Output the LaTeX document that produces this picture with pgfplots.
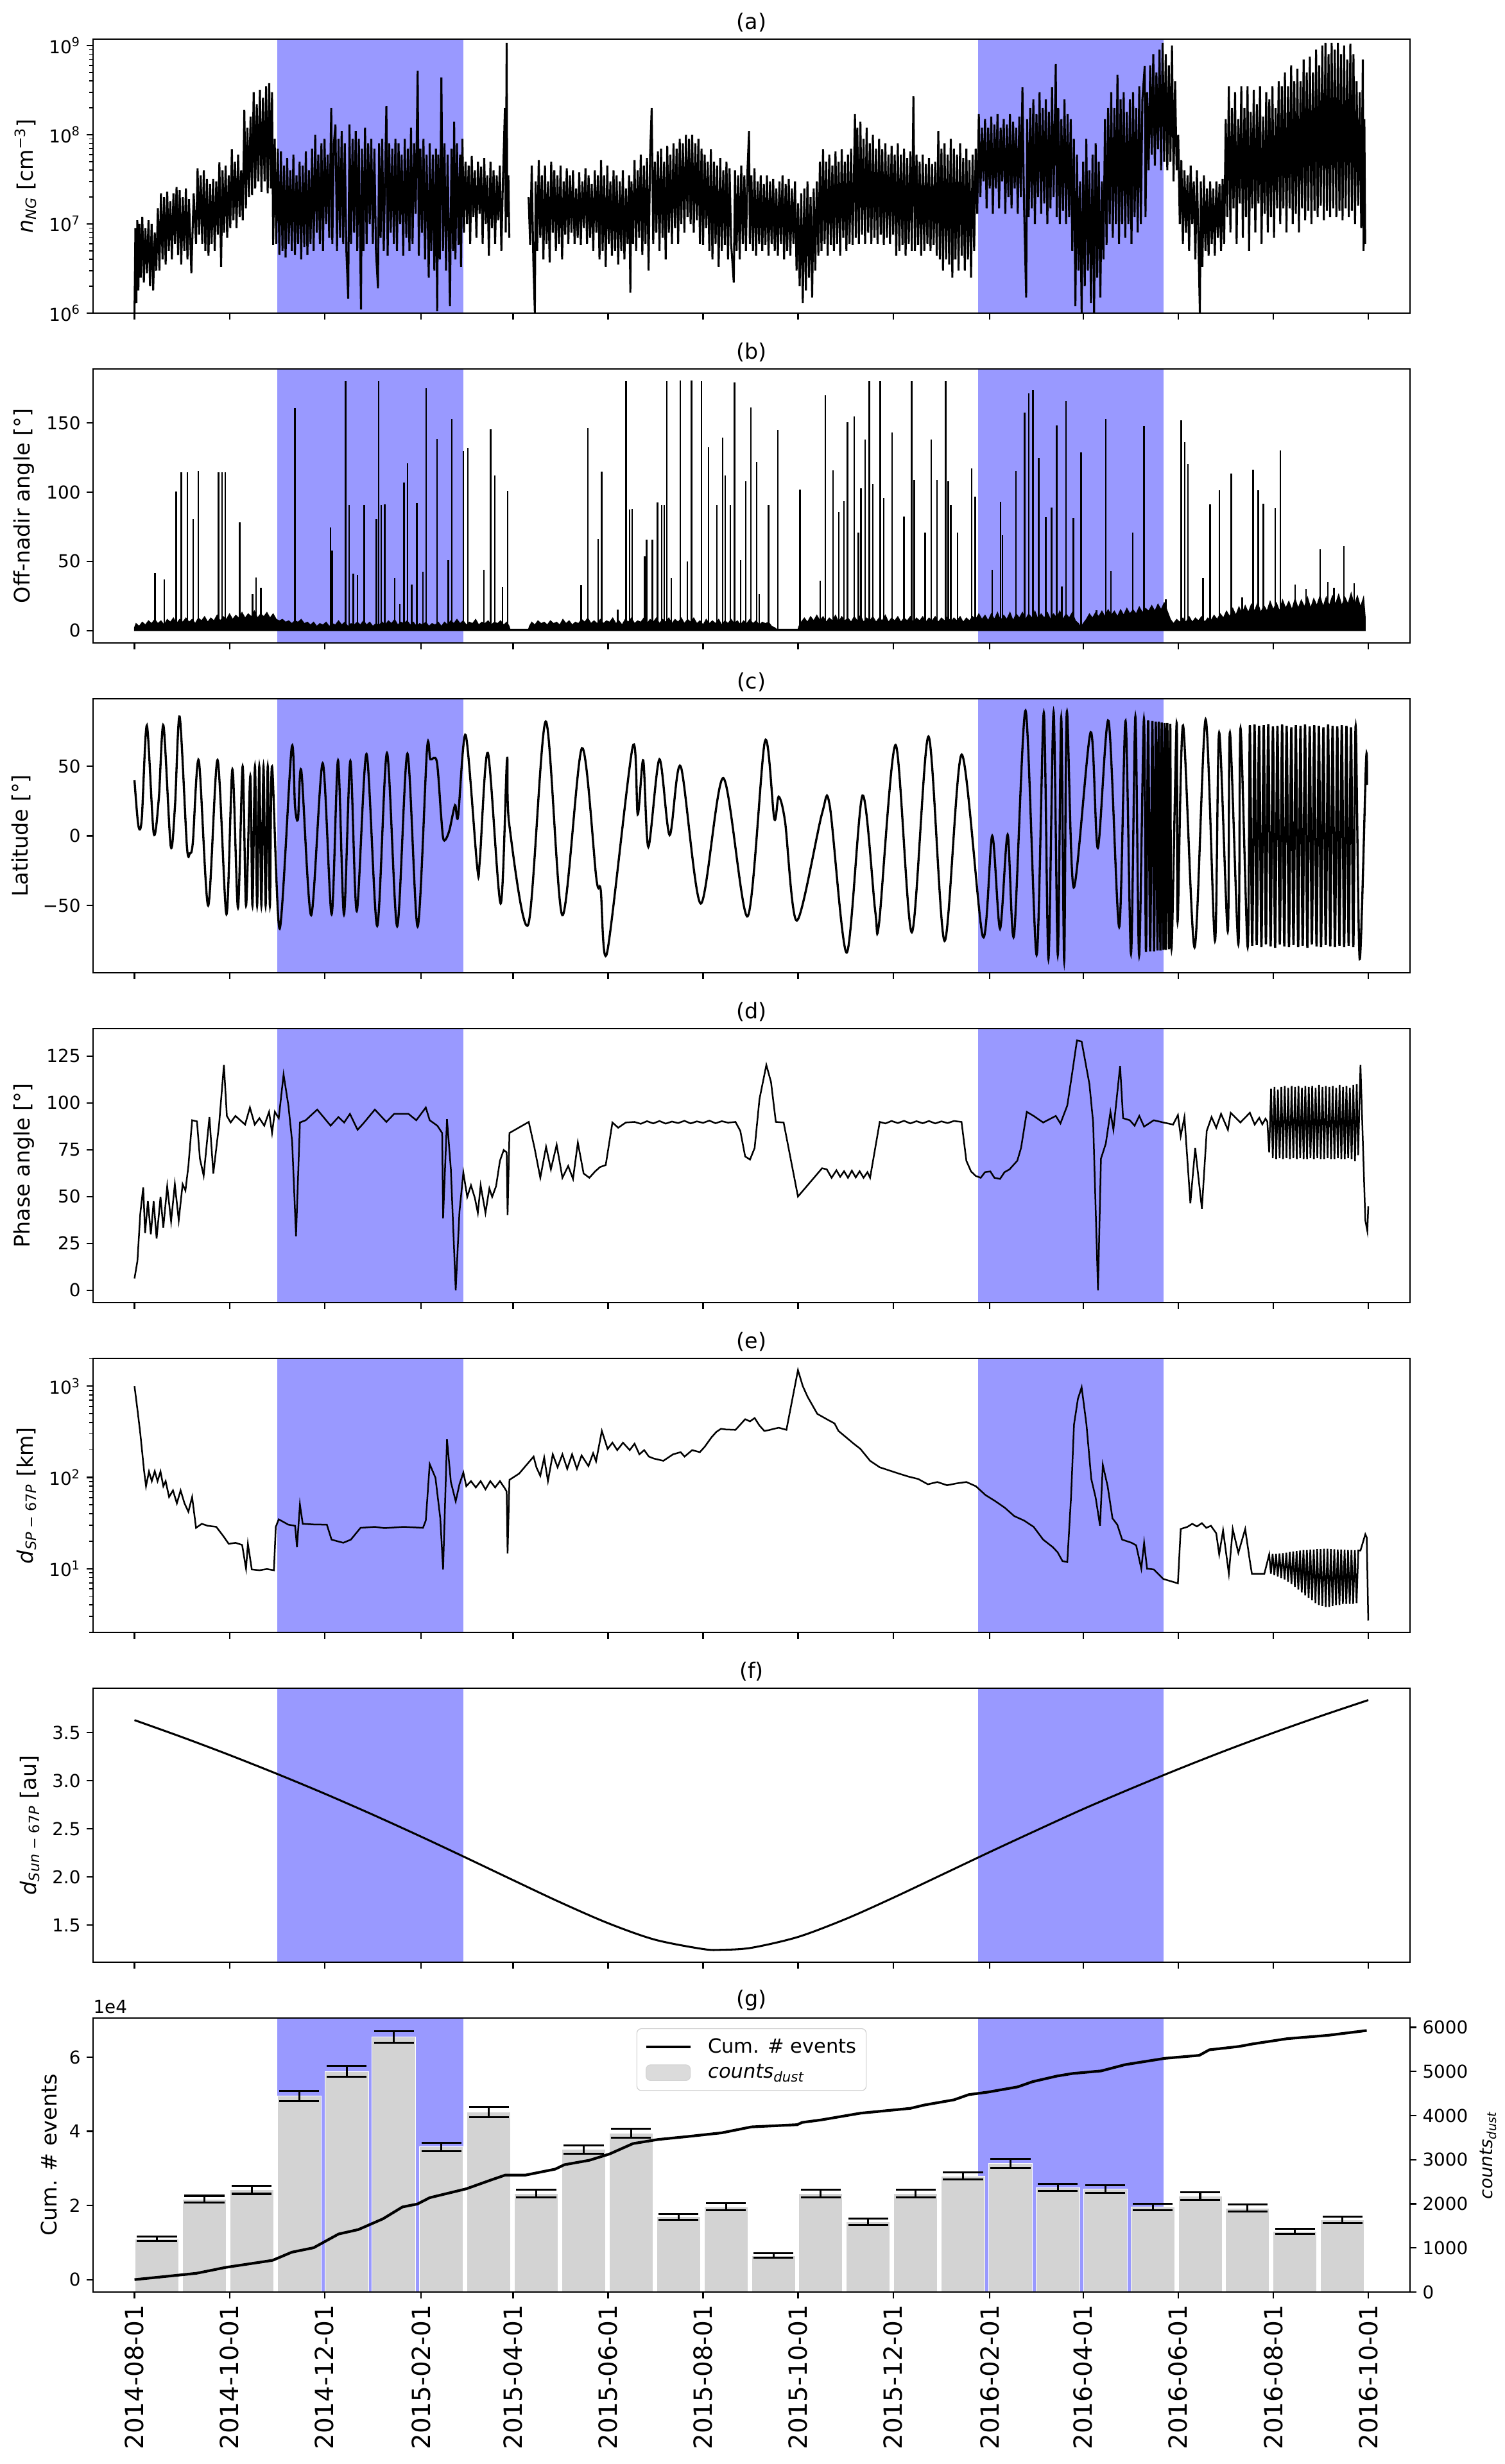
\documentclass[border=0pt]{standalone}
\usepackage{fontspec}
\setmainfont{DejaVu Sans}
\usepackage{pgfplots}
\pgfplotsset{compat=1.18}
\definecolor{spanblue}{RGB}{153,153,255}
\definecolor{bargray}{RGB}{211,211,211}
\pgfplotsset{
 panel/.style={
  width=738.72pt, height=153.72pt, scale only axis,
  xmin=-26.6, xmax=818.8,
  xtick={0,61,122,184,243,304,365,426,487,549,609,670,731,792},
  xticklabels={},
  scaled ticks=false,
  tick pos=left, tick align=outside,
  major tick length=3.5pt, minor tick length=2pt,
  major tick style={line width=0.8pt, black},
  minor tick style={line width=0.6pt, black},
  axis line style={line width=0.8pt, black},
  tick label style={font=\fontsize{10}{12}\selectfont, black},
  ylabel style={font=\fontsize{12}{14}\selectfont},
  title style={font=\fontsize{12}{14}\selectfont, yshift=-5.5pt},
  axis on top,
 },
}
\begin{document}
\begin{tikzpicture}
% ---------------- (a)
\begin{axis}[panel, at={(0pt,0pt)}, anchor=north west,
  title={(a)}, ymode=log, ymin=1e6, ymax=1.18e9,
  ytick={1e6,1e7,1e8,1e9},
  yticklabels={10\textsuperscript{6},10\textsuperscript{7},10\textsuperscript{8},10\textsuperscript{9}},
  minor ytick={2e6,3e6,4e6,5e6,6e6,7e6,8e6,9e6,2e7,3e7,4e7,5e7,6e7,7e7,8e7,9e7,2e8,3e8,4e8,5e8,6e8,7e8,8e8,9e8},
  ylabel={\textit{n}\textsubscript{\textit{NG}} [cm\textsuperscript{−3}]},
  unbounded coords=jump]
\addplot[draw=none, fill=spanblue, forget plot] coordinates {(91.8,1e5) (91.8,1e10) (211,1e10) (211,1e5)} -- cycle;
\addplot[draw=none, fill=spanblue, forget plot] coordinates {(541.6,1e5) (541.6,1e10) (660.5,1e10) (660.5,1e5)} -- cycle;
\addplot[black, line width=1.1pt] coordinates {
(0,1.0e6) (0.6,9e6) (1.2,1.3e6) (1.8,1.1e7) (2.5,1.8e6) (3.2,1.0e7) (4,2.5e6) (5,1.2e7) (6,2.2e6) (7,9e6)
(8,2.8e6) (9,1.1e7) (10,2.0e6) (11,1.0e7) (12,1.8e6) (13,8e6) (14,3e6) (15,1.5e7) (16,3e6) (17,2.2e7)
(18,4e6) (19,2.0e7) (20,3.5e6) (21,2.3e7) (22,5e6) (23,1.8e7) (24,4e6) (25,2.2e7) (26,6e6) (27,2.6e7)
(28,4.5e6) (29,2.4e7) (30,3.5e6) (31,2.0e7) (32,5e6) (33,2.5e7) (34,4e6) (35,1.9e7) (36.5,2.8e6) (38,2.2e7)
(39.5,6e6) (40.5,4.2e7) (41.5,7.6e6) (42.5,3.5e7) (43.5,6e6) (44.5,4e7) (45.5,5e6) (46.5,3.2e7) (47.5,4.4e6) (48.5,2.8e7)
(49.5,6e6) (50.5,3.2e7) (51.5,5e6) (52.5,3e7) (53.5,7.6e6) (54.5,4.9e7) (55.6,3.3e6) (56.5,4e7) (57.5,8e6) (58.5,4.5e7)
(59.5,7e6) (60.5,3.5e7) (61.5,9e6) (62.5,6.9e7) (63.5,1.1e7) (64.5,5e7) (65.5,9e6) (66.5,6e7) (67.5,1.2e7) (68.5,4e7)
(69.5,1.1e7) (70.5,1.9e8) (71.5,1.5e7) (72.5,1.2e8) (73.5,2e7) (74.5,1.6e8) (75.5,2.1e7) (76.5,3e8) (77.5,2.5e7) (78.5,2.2e8)
(79.5,3e7) (80.5,3.2e8) (81.5,2.3e7) (82.5,2.6e8) (83.5,3e7) (84.5,3.5e8) (85.5,2.2e7) (86.5,3.8e8) (87.5,2.5e7) (88.3,3e8)
(89,5.8e6) (90,9e7) (91,6e6) (92,7e7) (93,4.5e6) (94,6.5e7) (95,5e6) (96,4.5e7) (97,4.2e6) (98,5.5e7)
(99,6e6) (100,4e7) (101,5e6) (102,6e7) (103,4.5e6) (104,3.5e7) (105,6e6) (106,5e7) (107,4e6) (108,4.5e7)
(109,5.5e6) (110,6.5e7) (111,4.5e6) (112,4e7) (113,6e6) (114,7e7) (115,5e6) (116,1.0e8) (117,8e6) (118,6e7)
(119,6e6) (120,8e7) (121,5e6) (122,9e7) (123,1e7) (124,6e7) (125,7e6) (126.3,2e8) (127,6e6) (128,8e7)
(129,1.3e8) (130,5e6) (131,9e7) (132,7e6) (133,1.1e8) (134,6e6) (135,8e7) (136,5e6) (137.2,1.45e6) (138,1.3e8)
(139,6e6) (140,9e7) (141,8e6) (142,1.1e8) (143,5e6) (144,9e7) (145.4,1.1e6) (146,7e7) (147,5e6) (148,1.2e8)
(149,6e6) (150,8e7) (151,1e7) (152,9e7) (153,6e6) (154,7e7) (155,5e6) (156.3,1.9e6) (157,8e7) (158,7e6)
(159,9e7) (160,5e6) (161.7,2.1e8) (162.5,4.4e6) (163.5,8e7) (164.5,8e6) (165.5,7e7) (166.5,6e6) (167.5,9e7) (168.5,5e6)
(169.5,8e7) (170.5,1e7) (171.5,6e7) (172.5,4.4e6) (173.5,9e7) (174.5,7e6) (175.5,7e7) (176.5,5e6) (177.5,1.2e8) (178.5,6e6)
(179.5,8e7) (180.5,1.3e7) (181.8,5.2e8) (182.5,4.4e6) (183.5,7e7) (184.5,8e6) (185.5,9e7) (186.5,4e6) (187.5,6e7) (188.9,2.5e6)
(189.5,8e7) (190.5,5e6) (191.5,6e7) (192.5,3e6) (193.5,7e7) (194.3,1.05e6) (195,6e7) (196,4e6) (197,4.4e8) (198,5e6)
(199,8e7) (200,3e6) (201,6e7) (202.5,1.2e6) (203.5,7e7) (204.5,5e6) (205.2,1.4e8) (206,4e6) (207,8e7) (208,5.8e6)
(209,6e7) (209.6,3.3e6) (210.5,9e7) (211.5,8e6) (212.5,5e7) (213.5,1e7) (214.5,4.5e7) (215.5,6e6) (216.5,5.8e7) (217.5,1.2e7)
(218.5,4e7) (219.5,7e6) (220.5,5e7) (221.5,1.3e7) (222.5,4.4e7) (223.5,6e6) (224.5,5.5e7) (225.5,1e7) (226.5,3.5e7) (227.5,4.4e6)
(228.5,5e7) (229.5,9e6) (230.5,4e7) (231.5,6e6) (232.5,3.5e7) (233.5,1.1e7) (234.5,4.5e7) (235.5,5e6) (236.5,3e7) (237.8,2e8)
(238.3,8e6) (238.9,1.07e9) (239.3,1.2e7) (240,3.5e7) (240.6,7e6) (245,nan)
(253,2e7) (254,5.8e6) (255,4.5e7) (256,4e6) (257,1.0e6) (257.5,3e7) (258.5,5e6) (259.5,5.2e7) (260.5,7e6) (261.5,3.5e7)
(262.5,4e6) (263.5,4.5e7) (264.5,6e6) (265.5,3e7) (266.5,3.7e6) (267.5,5e7) (268.5,8e6) (269.5,4e7) (270.5,5e6) (271.5,3.5e7)
(272.5,6e6) (273.5,4.5e7) (274.5,4e6) (275.5,3e7) (276.5,7.6e6) (277.5,4.2e7) (278.5,6e6) (279.5,3.5e7) (280.5,8e6) (281.5,4e7)
(282.5,6e6) (283.5,2.5e7) (284.5,7e6) (285.5,3.8e7) (286.5,5.8e6) (287.5,3e7) (288.5,9e6) (289.5,4.2e7) (290.5,6e6) (291.5,3.5e7)
(292.5,7e6) (293.5,2.8e7) (294.5,5e6) (295.5,4e7) (296.5,8e6) (297.5,3.5e7) (298.5,4e6) (299.5,5.2e7) (300.5,5e6) (301.5,3.5e7)
(302.5,3.3e6) (303.5,4.5e7) (304.5,6e6) (305.5,3e7) (306.5,4.4e6) (307.5,4e7) (308.5,5e6) (309.5,3.5e7) (310.5,3.5e6) (311.5,3e7)
(312.5,5e6) (313.5,4e7) (314.5,4e6) (315.5,2.5e7) (316.5,6e6) (317.5,3.5e7) (318.3,1.7e6) (319,3e7) (320,6e6) (321,5.2e7)
(322,5e6) (323,4e7) (324,7e6) (325,6e7) (326,4.5e6) (327,4.5e7) (328,6e6) (329,5.5e7) (330,3e6) (331,6e7)
(332,2.0e8) (333,6e6) (334,5e7) (335,8e6) (336,6.5e7) (337,5e6) (338,7e7) (339,7e6) (340,5e7) (341,4e6)
(342,7.5e7) (343,8e6) (344,6e7) (345,6e6) (346,8e7) (347,9e6) (348,7e7) (349,6e6) (350,9e7) (351,1e7)
(352,8e7) (353,8e6) (354,1.0e8) (355,1.2e7) (356,9e7) (357,1e7) (358,1.0e8) (359,8e6) (360,8e7) (361,1.1e7)
(362,9e7) (363,6e6) (364,7e7) (365,5.8e6) (366,6e7) (367,9e6) (368,5e7) (369,5e6) (370,6.9e7) (371,4e6)
(372,5e7) (373,6e6) (374,4.5e7) (375,3.3e6) (376,5.5e7) (377,5e6) (378,4e7) (379,5.8e6) (380,5e7) (381,4e6)
(382,4.2e7) (383,6e6) (384.7,2.2e6) (385.5,4e7) (386.5,5e6) (387.5,3.5e7) (388.5,4e6) (389.5,4.5e7) (390.5,6e6) (391.5,3.5e7)
(392.5,5e6) (393.5,4e7) (394.5,1.1e8) (395,6e6) (396,3.5e7) (397,5e6) (398,4.2e7) (399,4.4e6) (400,3e7) (401,6e6)
(402,3.5e7) (403,5e6) (404,2.8e7) (405,5.8e6) (406,3.5e7) (407,4.4e6) (408,3e7) (409,6e6) (410,3.2e7) (411,5e6)
(412,2.5e7) (413,4.4e6) (414,3e7) (415,6e6) (416,3.5e7) (417,4e6) (418,2.8e7) (419,5e6) (420,3.2e7) (421,4.4e6)
(422,2.5e7) (423,6e6) (424,3e7) (425,3e6) (426,1.7e7) (427,2e6) (428,2.2e7) (429,1.3e6) (430,2.5e7) (431,1.8e6)
(432,3e7) (433,2.5e6) (434,2e7) (435,1.5e6) (436,2.5e7) (437,3e6) (438,3e7) (439,4.4e6) (440,5e7) (441,5e6)
(442,6.9e7) (443,6e6) (444,5e7) (445,4.4e6) (446,6e7) (447,5.8e6) (448,4.5e7) (449,5e6) (450,6.5e7) (451,6e6)
(452,5e7) (453,4.4e6) (454,6.9e7) (455,7e6) (456,5e7) (457,5e6) (458,6e7) (459,6e6) (460,7e7) (461,5.8e6)
(462.5,1.7e8) (463,7e6) (464,1.2e8) (465,6e6) (466,1.4e8) (467,7.6e6) (468,9e7) (469,6e6) (470,1.2e8) (471,8e6)
(472,8e7) (473,6e6) (474,1.0e8) (475,7e6) (476,7e7) (477,6e6) (478,9e7) (479,7.6e6) (480,6.9e7) (481,5.8e6)
(482,8e7) (483,7e6) (484,6e7) (485,6e6) (486,7.5e7) (487,7.6e6) (488,6e7) (489,4.4e6) (490,8e7) (491,5e6)
(492,6e7) (493,5.8e6) (494,7e7) (495,4.4e6) (496,5.5e7) (497,6e6) (498,6.5e7) (499,5e6) (500,2.7e8) (501,5e6)
(502,6e7) (503,5.8e6) (504,5e7) (505,4.4e6) (506,6e7) (507,5e6) (508,4.7e7) (509,6e6) (510,5.5e7) (511,5e6)
(512,4.7e7) (513,5.8e6) (514,5e7) (515,4.4e6) (516,1.1e8) (517,4e6) (518,7e7) (519,3e6) (520,8e7) (521,4e6)
(522,6e7) (523,3.5e6) (524,9e7) (525,2.5e6) (526,7e7) (527,4e6) (528,6e7) (529,3e6) (530,8e7) (531,4.4e6)
(532,5.5e7) (533,3e6) (534,7e7) (535,4e6) (536,5.2e7) (537,2.5e6) (538,6e7) (539,5e6) (540,7e7) (541,1.3e7)
(542,1.7e8) (543,2e7) (544,1.2e8) (545,3e7) (546,1.5e8) (547,1.5e7) (548,1.2e8) (549,2.5e7) (550,1.6e8) (551,1.3e7)
(552,1.3e8) (553,2.5e7) (554,1.7e8) (555,1.5e7) (556,1.2e8) (557,3e7) (558,1.5e8) (559,1.3e7) (560,1.3e8) (561,2e7)
(562,1.7e8) (563,1.5e7) (564,1.4e8) (565,2.5e7) (566,1.2e8) (567,1.3e7) (568,1.6e8) (569,2e7) (570,3.4e8) (571,1.7e7)
(572.4,1.5e6) (573,1.5e8) (574,1.2e7) (575,2e8) (576,1.5e7) (577,2.5e8) (578,1e7) (579,1.7e8) (580,2e7) (581,3e8)
(582,1.3e7) (583,2e8) (584,1.7e7) (585,2.5e8) (586,1e7) (587,1.8e8) (588,1.5e7) (589,3.4e8) (590,2e7) (591.4,6.2e8)
(592,1.2e7) (593,2e8) (594,1e7) (595,1.5e8) (596,1.4e7) (597,2.5e8) (598,1e7) (599,1.7e8) (600,1.2e7) (601,1.5e8)
(602,5e6) (603,9e7) (604,1.2e6) (605,6e7) (606,3e6) (607,3e7) (608,1.0e6) (609,5e7) (610,2e6) (611,9e7)
(612,3e6) (613,4e7) (614,1.3e6) (615,6e7) (616,1.0e6) (617,8e7) (618,2.5e6) (619,5e7) (620,1.5e6) (621,3e7)
(622,4e6) (623,1.5e8) (624,5.8e6) (625,2e8) (626,1e7) (627,3e8) (628,7e6) (629,2e8) (630,1e7) (631,4.7e8)
(632,6e6) (633,2.5e8) (634,1e7) (635,3e8) (636,7e6) (637,1.8e8) (638,1e7) (639,2.5e8) (640,6e6) (641,3e8)
(642,1.2e7) (643,2e8) (644,8e6) (645,3.5e8) (646,1e7) (647,2.5e8) (648.5,5.9e8) (649,1.2e7) (650,3e8) (651,4e7)
(652,6e8) (653,6e7) (654,8e8) (655,4.5e7) (656,5e8) (657,6.9e7) (658,9e8) (659,4e7) (660,1.07e9) (661,5e7)
(662,8e8) (663,4e7) (664,6e8) (665,5e7) (666,1.0e9) (667,3e7) (668,4e8) (669,4e7) (670,1.0e8) (671,1e7)
(672,5.2e7) (673,6e6) (674,4e7) (675,8e6) (676,3.5e7) (677,5e6) (678,4.5e7) (679,1e7) (680,3e7) (681,4e6)
(682,4e7) (683,6e6) (683.9,1.0e6) (684.5,3e7) (685.5,3.3e6) (686.5,3.5e7) (687.5,5e6) (688.5,2.5e7) (689.5,4.4e6) (690.5,3e7)
(691.5,6e6) (692.5,2.5e7) (693.5,4.4e6) (694.5,3e7) (695.5,7e6) (696.5,2.8e7) (697.5,5e6) (698.5,3.2e7) (699.5,6e6) (700.5,1.5e8)
(701.5,1.2e7) (702.5,3.5e8) (703.5,8e6) (704.5,2e8) (705.5,1.5e7) (706.5,3e8) (707.5,6e6) (708.5,1.5e8) (709.5,1.7e7) (710.5,3.5e8)
(711.5,7e6) (712.5,2e8) (713.5,1.2e7) (714.5,3.5e8) (715.5,5e6) (716.5,1.8e8) (717.5,1.5e7) (718.5,3.2e8) (719.5,8e6) (720.5,2.2e8)
(721.5,1.7e7) (722.5,3.5e8) (723.5,6e6) (724.5,1.6e8) (725.5,1.3e7) (726.5,3e8) (727.5,8e6) (728.5,2.5e8) (729.5,1.2e7) (730.5,3.5e8)
(731.5,7e6) (732.5,2e8) (733.5,1.5e7) (734.5,4e8) (735.5,1e7) (736.5,3.5e8) (737.5,1.5e7) (738.5,5e8) (739.5,8e6) (740.5,3.5e8)
(741.5,1.5e7) (742.5,6e8) (743.5,1e7) (744.5,4e8) (745.5,1.3e7) (746.5,5.5e8) (747.5,8e6) (748.5,4e8) (749.5,1.5e7) (750.5,7e8)
(751.5,1.1e7) (752.5,5e8) (753.5,1.4e7) (754.5,7.5e8) (755.5,1e7) (756.5,5e8) (757.5,1.4e7) (758.5,9e8) (759.5,1.2e7) (760.5,6e8)
(761.5,1.6e7) (762.5,1.0e9) (763.5,1.1e7) (764.5,1.07e9) (765.5,1.4e7) (766.5,8e8) (767.5,1.2e7) (768.5,1.07e9) (769.5,1.5e7) (770.5,9e8)
(771.5,1.2e7) (772.5,1.07e9) (773.5,1.4e7) (774.5,8e8) (775.5,1.1e7) (776.5,1.0e9) (777.5,1.5e7) (778.5,7e8) (779.5,1.2e7) (780.5,1.05e9)
(781.5,1.4e7) (782.5,8e8) (783.5,1e7) (784.5,4e8) (785.5,1.6e7) (786.5,3e8) (787.5,9e6) (788.5,7e8) (789,5e6) (789.5,1.5e8) (790,6e6)
};
\end{axis}
% ---------------- (b)
\begin{axis}[panel, at={(0pt,-185.04pt)}, anchor=north west,
  title={(b)}, ymin=-9, ymax=189,
  ytick={0,50,100,150}, yticklabels={0,50,100,150},
  ylabel={Off-nadir angle [°]}]
\addplot[draw=none, fill=spanblue, forget plot] coordinates {(91.8,-50) (91.8,250) (211,250) (211,-50)} -- cycle;
\addplot[draw=none, fill=spanblue, forget plot] coordinates {(541.6,-50) (541.6,250) (660.5,250) (660.5,-50)} -- cycle;
\addplot[fill=black, draw=black, line width=0.5pt] coordinates {
(0,2) (1,5) (3,3) (5,6) (7,4) (9,7) (11,5) (13,8) (15,5) (17,7) (19,4) (21,8) (23,6) (25,9) (27,5) (29,8) (31,6) (33,9) (35,6) (37,8)
(39,5) (41,9) (43,7) (45,10) (47,6) (49,9) (51,7) (53,11) (55,7) (57,10) (59,8) (61,12) (63,8) (65,11) (67,9) (69,13) (71,9) (73,12) (75,10) (77,14)
(79,9) (81,12) (83,10) (85,13) (87,9) (89,12) (91,8) (93,7) (95,8) (97,6) (99,7) (101,5) (103,7) (105,6) (107,8) (109,5) (111,6) (113,4) (115,6) (117,3)
(119,5) (121,4) (123,6) (125,3) (127,5) (129,4) (131,7) (133,4) (135,6) (137,3) (139,5) (141,4) (143,6) (145,4) (147,7) (149,4) (151,6) (153,3) (155,5) (157,4)
(159,6) (161,4) (163,7) (165,5) (167,8) (169,4) (171,6) (173,5) (175,7) (177,4) (179,6) (181,3) (183,5) (185,4) (187,6) (189,3) (191,5) (193,4) (195,6) (197,3)
(199,6) (201,4) (203,7) (205,5) (207,8) (209,5) (211,7) (213,4) (215,6) (217,5) (219,8) (221,4) (223,6) (225,5) (227,7) (229,4) (231,6) (233,5) (235,7) (237,4)
(239,6) (240.5,3) (241,1) (253,1) (253.5,3) (255,6) (257,4) (259,7) (261,5) (263,6) (265,4) (267,7) (269,5) (271,6) (273,4) (275,8) (277,5) (279,7) (281,4) (283,6)
(285,5) (287,8) (289,6) (291,9) (293,5) (295,7) (297,5) (299,8) (301,5) (303,7) (305,6) (307,9) (309,5) (311,7) (313,4) (315,8) (317,6) (319,9) (321,5) (323,7)
(325,6) (327,9) (329,5) (331,8) (333,6) (335,9) (337,5) (339,8) (341,6) (343,9) (345,5) (347,8) (349,6) (351,9) (353,5) (355,8) (357,6) (359,9) (361,5) (363,7)
(365,4) (367,8) (369,5) (371,7) (373,5) (375,8) (377,4) (379,7) (381,5) (383,8) (385,5) (387,7) (389,4) (391,7) (393,5) (395,8) (397,5) (399,7) (401,4) (403,6)
(405,5) (407,6) (409,3) (411,2) (412,1) (426,1) (426.5,3) (428,6) (430,9) (432,6) (434,10) (436,7) (438,11) (440,7) (442,10) (444,6) (446,9) (448,7) (450,11) (452,6)
(454,10) (456,7) (458,9) (460,6) (462,10) (464,7) (466,11) (468,6) (470,9) (472,7) (474,10) (476,6) (478,9) (480,7) (482,11) (484,6) (486,9) (488,7) (490,10) (492,6)
(494,9) (496,7) (498,10) (500,6) (502,9) (504,7) (506,10) (508,6) (510,9) (512,7) (514,10) (516,6) (518,9) (520,7) (522,10) (524,6) (526,9) (528,7) (530,10) (532,6)
(534,9) (536,7) (538,10) (540,8) (542,12) (544,8) (546,11) (548,7) (550,12) (552,8) (554,13) (556,7) (558,11) (560,8) (562,13) (564,7) (566,12) (568,9) (570,13) (572,8)
(574,12) (576,9) (578,14) (580,8) (582,12) (584,9) (586,13) (588,8) (590,12) (592,9) (594,14) (596,8) (598,12) (600,9) (602,13) (604,7) (606,5) (607.5,2) (609,5) (611,8)
(613,12) (615,9) (617,13) (619,10) (621,14) (623,10) (625,15) (627,11) (629,14) (631,10) (633,15) (635,11) (637,16) (639,12) (641,15) (643,12) (645,17) (647,13) (649,16) (651,14)
(653,18) (655,14) (657,19) (659,15) (661,20) (663,14) (665,8) (667,5) (669,8) (671,6) (673,9) (675,6) (677,10) (679,6) (681,9) (683,7) (685,10) (687,6) (689,9) (691,7)
(693,11) (695,8) (697,12) (699,9) (701,14) (703,10) (705,16) (707,11) (709,17) (711,12) (713,18) (715,13) (717,19) (719,14) (721,20) (723,13) (725,18) (727,14) (729,21) (731,15)
(733,20) (735,14) (737,22) (739,16) (741,21) (743,15) (745,23) (747,16) (749,22) (751,17) (753,24) (755,16) (757,23) (759,18) (761,25) (763,17) (765,24) (767,18) (769,25) (771,19)
(773,26) (775,18) (777,24) (779,19) (781,27) (783,18) (785,25) (787,17) (789,24) (790,10)
} \closedcycle;
\addplot[ycomb, black, line width=0.9pt] coordinates {
(13.2,41.4) (19.2,36.7) (26.8,100.5) (30.1,114.4) (33.9,114.4) (37.7,80.7) (41.0,115.4) (54.0,114.4) (56.2,114.4) (58.3,114.4)
(67.6,78.4) (75.8,26.4) (78.0,38.3) (81.2,31) (103.0,160.6) (125.8,74.7) (126.9,58) (135.6,180) (137.8,90.7) (140.5,41)
(143.2,40) (147.5,90.9) (155.2,80.7) (156.8,180) (158.4,90.9) (160.6,91.2) (167.1,38) (170.4,19.4) (173.1,107) (175.3,121)
(178.0,33.3) (181.3,92) (185.1,42.6) (187.3,175.3) (194.3,138.3) (201.4,50.6) (203.6,153) (211.2,129.8) (213.9,132.1) (224.2,44.1)
(228.6,145.2) (231.3,112) (236.2,31.5) (239.5,100.8) (286.8,32.6) (291.1,146.3) (297.7,66) (299.8,114.8) (310.2,15.3) (315.6,180)
(317.8,87.3) (319.4,88) (327.6,53.4) (328.7,65.7) (332.5,65.7) (335.8,92.7) (338.5,90.7) (340.1,90.7) (341.7,180.4) (344.5,38)
(350.4,180.7) (354.8,50) (357.5,180.7) (364.0,180) (368.4,132.6) (373.8,90.9) (377.6,139.4) (379.3,112) (382.5,90.9) (385.2,179.2)
(389.1,50.6) (392.3,107.7) (395.6,161) (399.4,121.9) (401.0,26.4) (407.0,90.9) (413.0,144.8) (427.1,102) (440.2,36.1) (443.4,170)
(448.4,115.9) (452.2,85.8) (455.4,93.5) (457.6,150.6) (462.0,154.5) (464.7,70.8) (466.3,102.8) (469.0,138) (471.7,180) (473.9,105.9)
(478.8,180) (481.0,95.8) (486.4,143.2) (494.0,82.4) (498.9,180) (500.6,109) (507.6,70.8) (511.4,138) (515.2,109) (520.7,180)
(522.3,107.7) (524.0,90.9) (528.3,70.8) (537.5,117.1) (539.7,96.6) (550.6,44) (556.0,93.2) (557.1,68.8) (565.8,115.1) (571.3,157.6)
(574.0,171.5) (576.7,173.8) (580.5,124.4) (584.9,82) (588.7,88.9) (592.0,148) (595.2,31.8) (598.0,166) (602.8,81.6) (607.7,128.7)
(617.5,14.8) (623.5,153) (626.8,42.9) (640.9,70.7) (648.0,147.8) (662.1,22.5) (671.9,151.7) (674.1,136.3) (676.3,120.2) (686.0,37.7)
(690.4,91.2) (696.4,101.2) (704.0,113.6) (711.0,24) (718.1,116.2) (721.4,101.2) (724.6,91.7) (732.3,88.6) (735.5,130.2) (761.1,58.5) (776.3,60.8)
(745,33) (752,30) (766,35) (770,31) (783,34)
};
\end{axis}
% ---------------- (c)
\begin{axis}[panel, at={(0pt,-370.08pt)}, anchor=north west,
  title={(c)}, ymin=-98.5, ymax=98.5,
  ytick={-50,0,50}, yticklabels={−50,0,50},
  ylabel={Latitude [°]}]
\addplot[draw=none, fill=spanblue, forget plot] coordinates {(91.8,-150) (91.8,150) (211,150) (211,-150)} -- cycle;
\addplot[draw=none, fill=spanblue, forget plot] coordinates {(541.6,-150) (541.6,150) (660.5,150) (660.5,-150)} -- cycle;
\addplot[black, line width=1.2pt, smooth, tension=0.5] coordinates {
(0,39.9) (2.47,7.4) (4.66,12.0) (7.94,79.3) (12.31,2.0) (15.59,26.6) (18.6,79.3) (23.24,-7.2) (25.98,21.2) (28.98,85.7)
(33.63,-7.2) (35.54,-12.6) (37.45,-4.9) (41.28,54.2) (47.29,-50.2) (53.3,54.5) (59.04,-56.4) (62.87,47.8) (66.42,-51.8) (69.43,49.9)
(71.61,-50.2) (74.35,43.0) (75.71,-50.2) (77.35,49.9) (78.72,-50.2) (80.09,49.9) (81.45,-50.2) (82.82,49.9) (84.19,-50.2) (85.55,49.9)
(86.92,-50.2) (88.29,49.9) (93.2,-66.8) (100.86,63.0) (103.04,21.2) (104.96,12.0) (107.14,46.5) (113.43,-57.1) (120.8,52.2) (126.55,-56.4)
(130.65,54.2) (134.47,-56.7) (138.57,53.8) (142.67,-54.1) (148.95,58.8) (155.79,-64.8) (162.07,59.6) (168.63,-65.1) (175.19,59.1) (181.75,-65.3)
(187.76,61.9) (189.95,55.0) (194.05,53.5) (196.78,15.1) (198.15,-1.8) (199.78,-2.6) (202.24,4.3) (205.79,22.0) (207.71,13.8) (212.63,72.4)
(220.01,-22.6) (221.65,-18.0) (226.84,59.6) (235.04,-48.7) (239.14,55.0) (240.5,8.9) (252.8,-63.7) (264.0,82.2) (274.66,-57.1) (287.23,63.0)
(296.52,-31.0) (299.26,-38.7) (303.36,-84.0) (319.76,63.7) (323.04,15.4) (326.59,54.2) (329.87,-8.0) (336.97,55.0) (343.53,0.5) (350.64,49.9)
(363.48,-48.7) (377.97,41.5) (393.6,-57.9) (404.7,68.0) (410.7,12.3) (413.5,28.1) (417.6,10.4) (425.2,-61.0) (441.3,15.8) (446.3,21.7)
(457.2,-84.0) (467.3,28.9) (475.5,-54.1) (478.0,-62.5) (488.6,65.3) (499.0,-69.4) (509.7,71.4) (520.0,-75.6) (531.0,58.4) (544.6,-72.5)
(550.6,0.0) (555.6,-66.8) (560.5,0.8) (564.6,-71.7) (572.0,90.0) (579.1,-85.6) (583.7,88.5) (586.7,-88.6) (590.0,89.1) (592.7,-85.6)
(594.9,85.0) (596.8,-90.0) (598.5,89.1) (602.9,-37.2) (613.8,74.5) (618.4,-8.8) (625.3,82.6) (632.1,-65.6) (636.2,82.6) (639.7,-84.8)
(642.5,85.7) (644.9,-86.0) (648.0,84.0) (649.3,-83.5) (650.7,83.0) (652.0,-83.0) (653.4,82.5) (654.5,-83.0) (655.6,82.0) (656.7,-82.5)
(657.5,82.0) (658.6,-82.5) (659.4,81.5) (660.5,-82.0) (661.3,81.0) (662.1,-82.0) (663.0,81.0) (664.1,-81.5) (664.9,80.5) (665.7,-81.0)
(669.0,81.1) (669.6,-61.8) (673.1,79.3) (680.5,-80.2) (687.6,83.7) (693.6,-75.6) (696.3,74.2) (701.8,-68.7) (703.2,74.2) (708.6,-77.9)
(710.0,77.3) (714.6,-80.0) (716.0,79.5) (717.5,-79.0) (719.0,80.0) (720.4,-78.5) (721.9,79.0) (723.4,-80.0) (724.9,79.5) (726.3,-78.0)
(727.8,80.3) (729.3,-79.5) (730.8,78.5) (732.2,-80.5) (733.7,79.0) (735.2,-78.0) (736.7,80.0) (738.1,-79.5) (739.6,79.0) (741.1,-80.0)
(742.6,78.0) (744.0,-78.5) (745.5,79.5) (747.0,-80.0) (748.5,79.0) (749.9,-79.0) (751.4,80.0) (752.9,-80.5) (754.4,78.5) (755.8,-78.0)
(757.3,79.5) (758.8,-79.5) (760.3,79.0) (761.7,-80.0) (763.2,78.0) (764.7,-78.5) (766.2,80.0) (767.6,-79.5) (769.1,79.0) (770.6,-80.0)
(772.1,78.5) (773.5,-79.0) (775.0,79.5) (776.5,-80.0) (778.0,79.0) (779.4,-79.0) (780.9,78.0) (782.4,-80.0) (783.9,79.0) (786.5,-88.6)
(790.6,54.5) (791.2,36.6)
};
\end{axis}
% ---------------- (d)
\begin{axis}[panel, at={(0pt,-555.12pt)}, anchor=north west,
  title={(d)}, ymin=-6.6, ymax=139.6,
  ytick={0,25,50,75,100,125}, yticklabels={0,25,50,75,100,125},
  ylabel={Phase angle [°]}]
\addplot[draw=none, fill=spanblue, forget plot] coordinates {(91.8,-50) (91.8,200) (211,200) (211,-50)} -- cycle;
\addplot[draw=none, fill=spanblue, forget plot] coordinates {(541.6,-50) (541.6,200) (660.5,200) (660.5,-50)} -- cycle;
\addplot[black, line width=0.9pt] coordinates {
(0,6.25) (1.9,15.7) (3.7,40.7) (5.6,54.9) (6.8,30.5) (8.6,47.5) (10.5,29.9) (12.3,47.5) (14.2,27.6) (16.7,49.8)
(18.5,33.3) (21,55.5) (23.5,36.7) (25.9,56.6) (28.4,37.3) (30.9,56.6) (32.7,53.2) (34.6,66.3) (37,90.7) (40.1,90.1)
(42,70.2) (44.4,61.1) (48.1,92.4) (50.6,62.3) (54.3,88.4) (57.4,120.2) (59.3,93) (61.7,89.5) (64.8,93) (67.9,90.7)
(71,88.4) (74.1,97.5) (77.2,88.4) (80.2,91.8) (83.3,87.8) (86.4,95.2) (88.3,83.9) (90.1,95.2) (92.6,91.8) (95.7,115.1)
(98.8,98.6) (101.2,79.3) (103.7,28.8) (106.2,89.5) (109.9,90.7) (117.3,96.4) (125.9,87.8) (130.9,92.4) (134.6,89.5) (138.3,94.1)
(143.2,85.6) (146.9,89) (154.3,96.4) (161.7,89.8) (166.7,94.1) (175.9,94.1) (180.9,90.7) (187,97.5) (189.5,90.7) (194.4,87.8)
(197.5,83.9) (198.1,38.4) (200.6,91.3) (203.1,64.5) (206.2,0) (208.6,41.8) (211.1,62.8) (213.6,49.8) (216,56) (218.5,49.2)
(220.4,41.3) (222.2,56) (225.3,41.3) (227.8,54.3) (229.6,49.8) (232.1,55.5) (234.6,69.1) (237,74.8) (238.9,73.6) (239.5,40.1)
(240.7,83.9) (253.1,89.8) (256.8,75.9) (260.5,60) (264.2,76.5) (267.3,64.5) (271,77.6) (274.7,60) (278.4,66.3) (281.5,59.4)
(284.6,78.8) (288.3,62.3) (292,60) (295.7,63.4) (298.8,65.7) (302.5,66.8) (306.8,89.5) (310.5,86.7) (315.4,89.5) (321,89.8)
(325,88.8) (329,90.2) (333,89) (337,90.3) (341,88.9) (345,90) (349,89.2) (353,90.4) (357,89) (361,90.1)
(365,89.3) (369,90.5) (373,89.1) (377,90.2) (381,89.4) (385.8,89.8) (388.9,85) (392,71.4) (395.1,69.7) (398.1,75.9)
(401.2,102) (405.6,120.2) (408.6,111.1) (411.7,89.8) (416.7,89.5) (425.9,50) (441.4,65.1) (444.4,64.5) (447.5,60) (450.6,64)
(453,60.5) (455.5,63.5) (458,60) (460.5,63.8) (463,60.2) (465.5,63.5) (468,60) (470.5,63) (472.2,60) (478.4,89.8)
(482,89) (486,90.3) (490,89.2) (494,90.4) (498,89) (502,90.2) (506,89.1) (510,90.3) (514,89) (518,90.1)
(522,89.2) (526,90.3) (530.9,89.8) (534,69.1) (537,63.4) (540,61) (543.2,60) (546,63) (549.4,63.4) (552,60)
(555.6,59.4) (558.5,63) (561.7,64.5) (566.7,69.1) (569.1,75.9) (572.8,95.2) (577.2,93) (583.3,89.5) (591.4,93) (594.4,89)
(598.8,98.6) (601.9,115.7) (605,133.3) (608,132.7) (613,110) (615.4,89.5) (618.5,0) (620.4,70.2) (623.5,78.2) (626.5,95.2)
(628.4,85.6) (632.7,119.7) (634.6,91.8) (638.9,90.7) (642,87.8) (645,93) (648.1,87.3) (654.3,90.7) (660.5,89.5) (666.7,88.4)
(669.8,93.5) (671.6,82.2) (674,92.4) (677.8,46.4) (680.9,75.9) (685.2,43.5) (688.3,85) (691.4,92.4) (694.4,86.7) (697.5,94.1)
(701.9,85.6) (703.7,94.7) (709.9,89.5) (716,94.7) (719.1,88.4) (722,92) (724,88.5) (726,91.5) (727.2,90) (728.4,73.6)
(729.6,107.5) (730.7,70.5) (731.8,108.5) (732.9,70) (734,107) (735.1,70.5) (736.2,108.5) (737.3,70) (738.4,109) (739.5,70.5)
(740.6,108) (741.7,70) (742.8,109) (743.9,70.5) (745,108.5) (746.1,70) (747.2,109) (748.3,70.5) (749.4,108) (750.5,70)
(751.6,109) (752.7,70) (753.8,108.5) (754.9,70.5) (756,109) (757.1,70) (758.2,108) (759.3,70.5) (760.4,109.5) (761.5,70)
(762.6,108.5) (763.7,70) (764.8,109) (765.9,70.5) (767,108.5) (768.1,70) (769.2,109) (770.3,70) (771.4,108) (772.5,70.5)
(773.6,109.5) (774.7,70) (775.8,108.5) (776.9,70) (778,109) (779.1,70.5) (780.2,108) (781.3,70) (782.4,109.5) (783.5,69)
(784.6,110) (785.5,72) (787,120.2) (790.1,37.3) (791.4,31.6) (792,44.7)
};
\end{axis}
% ---------------- (e)
\begin{axis}[panel, at={(0pt,-740.16pt)}, anchor=north west,
  title={(e)}, ymode=log, ymin=2.0, ymax=2012,
  ytick={10,100,1000},
  yticklabels={10\textsuperscript{1},10\textsuperscript{2},10\textsuperscript{3}},
  minor ytick={2,3,4,5,6,7,8,9,20,30,40,50,60,70,80,90,200,300,400,500,600,700,800,900,2000},
  ylabel={\textit{d}\textsubscript{\textit{SP} − 67\textit{P}} [km]}]
\addplot[draw=none, fill=spanblue, forget plot] coordinates {(91.8,0.1) (91.8,1e5) (211,1e5) (211,0.1)} -- cycle;
\addplot[draw=none, fill=spanblue, forget plot] coordinates {(541.6,0.1) (541.6,1e5) (660.5,1e5) (660.5,0.1)} -- cycle;
\addplot[black, line width=0.9pt] coordinates {
(0,1000) (1.9,553) (3.7,306) (6.2,116) (7.4,80) (9.3,116) (11.1,91) (13,117) (14.8,91) (16.7,116)
(18.5,80) (20,91) (22.2,61) (24.7,72) (27.2,52) (29.6,72) (32.1,52) (34.6,42) (37,61) (39.5,28)
(43.2,31) (47,29.5) (52.5,28.7) (56.8,23) (60.5,18.7) (64.8,19.2) (69.1,18.2) (71.6,10) (72.8,18.7) (75.3,9.8)
(80.2,9.6) (85,9.9) (89.5,9.6) (90.7,28.7) (92.6,34.7) (98.8,30.3) (103.1,29.5) (104.3,17.2) (106.2,50.5) (108,31)
(115,30.5) (123.5,30.3) (126.5,20.8) (134,19.2) (138.9,20.8) (145.1,28) (154.3,28.7) (160.5,27.8) (172.8,28.7) (185.2,28)
(187,33.7) (189.5,140) (193.2,99) (196.3,35.6) (198.1,9.8) (200.6,261) (203.1,89) (206.2,54.7) (208.6,84) (211.1,113)
(213,80) (216,91) (219.1,77.6) (222.2,91) (225.3,74) (228.4,91) (231.5,77.6) (234.6,91) (237.7,76) (238.9,70)
(239.5,14.7) (240.7,94) (246.9,110) (256.2,169) (258,129) (260.5,104) (263,165) (265.4,91) (268.5,179) (271.6,129)
(274.7,179) (277.8,124) (280.9,179) (284,124) (287,174) (291.4,133) (294.4,184) (296.3,150) (300,323) (303.7,205)
(306.8,240) (309.9,199) (313.6,240) (317.9,199) (321,234) (324.1,179) (327.2,199) (330.2,169) (333.3,161) (339.5,152)
(345.7,179) (350.6,189) (353.1,169) (358,199) (362.9,189) (366,216) (370.4,275) (373.5,315) (376.5,341) (379.6,335)
(385.8,332) (388.9,379) (392,434) (395.1,411) (398.1,447) (401.2,370) (404.3,323) (407.4,330) (410.5,341) (413.6,350)
(418.5,332) (421,553) (425.9,1497) (429,1000) (432.1,764) (438.3,497) (444.4,434) (449.4,390) (451.9,323) (456.8,275)
(461.7,234) (466,205) (472.2,152) (478.4,129) (484.6,119) (490.7,110) (496.9,102) (503.1,96) (509.3,84) (515.4,89)
(521.6,82) (527.8,86) (534,89) (540.1,80) (546.3,64) (552.5,55) (558.6,46.6) (564.8,37.6) (571,33.7) (577.2,28.7)
(583.3,20.8) (589.5,17.2) (592.6,15.1) (595.7,12.1) (598.8,11.8) (601.2,61) (603.1,379) (605.6,724) (608,973) (611.1,379)
(614.2,96) (617,60) (619.8,29.5) (621.6,137) (624.7,80) (627.8,35.6) (630.9,30.3) (634,20.8) (640.1,19.2) (643,18)
(646.3,10) (648.1,19.2) (650,10) (654.3,9.8) (660.5,7.7) (669.8,6.9) (671.6,27.2) (675.9,28.7) (679,31) (682,29)
(685.2,31.5) (688,28) (691,29.5) (694.4,24.4) (696.3,14.3) (698.8,26.3) (702.5,8.8) (705,27.2) (708.6,14.9) (713,27.2)
(716,12.1) (717.3,8.8) (725.3,8.8) (728.4,14.3) (729.5,8.8) (730.6,14.5) (731.7,8.5) (732.8,14.5) (733.9,8.2) (735,14.6)
(736.1,7.9) (737.2,14.8) (738.3,7.6) (739.4,15) (740.5,7.2) (741.6,15.2) (742.7,6.8) (743.8,15.4) (744.9,6.3) (746,15.6)
(747.1,5.9) (748.2,15.8) (749.3,5.5) (750.4,16) (751.5,5.1) (752.6,16) (753.7,4.8) (754.8,16.2) (755.9,4.5) (757,16.2)
(758.1,4.2) (759.2,16.4) (760.3,4.0) (761.4,16.4) (762.5,3.9) (763.6,16.5) (764.7,3.8) (765.8,16.5) (766.9,3.8) (768,16.4)
(769.1,3.9) (770.2,16.3) (771.3,4.0) (772.4,16.2) (773.5,4.0) (774.6,16.2) (775.7,4.1) (776.8,16.1) (777.9,4.1) (779,16)
(780.1,4.1) (781.2,16) (782.3,4.1) (783.4,15.9) (784.5,4.2) (785.6,15.8) (787,15.8) (790.1,23.8) (791,22) (792,2.7)
};
\end{axis}
% ---------------- (f)
\begin{axis}[panel, at={(0pt,-925.2pt)}, anchor=north west,
  title={(f)}, ymin=1.114, ymax=3.959,
  ytick={1.5,2.0,2.5,3.0,3.5}, yticklabels={1.5,2.0,2.5,3.0,3.5},
  ylabel={\textit{d}\textsubscript{\textit{Sun} − 67\textit{P}} [au]}]
\addplot[draw=none, fill=spanblue, forget plot] coordinates {(91.8,0) (91.8,5) (211,5) (211,0)} -- cycle;
\addplot[draw=none, fill=spanblue, forget plot] coordinates {(541.6,0) (541.6,5) (660.5,5) (660.5,0)} -- cycle;
\addplot[black, line width=1.1pt, smooth] coordinates {
(0,3.628) (30,3.4545) (60,3.2719) (92,3.0666) (122,2.865) (153,2.646) (184,2.418) (212,2.2054) (243,1.9667) (273,1.7383)
(304,1.5196) (334,1.3486) (365,1.2510) (377,1.2431) (396,1.2640) (426,1.3770) (457,1.5662) (487,1.7833) (518,2.0204) (549,2.2583)
(578,2.4759) (609,2.7046) (639,2.9122) (670,3.1185) (700,3.3094) (731,3.4959) (762,3.6731) (792,3.836)
};
\end{axis}
% ---------------- (g) bars, right axis
\begin{axis}[panel, at={(0pt,-1110.24pt)}, anchor=north west,
  xtick=\empty, ymin=0, ymax=6210,
  ytick pos=right, yticklabel pos=right, ylabel near ticks,
  ytick={0,1000,2000,3000,4000,5000,6000},
  yticklabels={0,1000,2000,3000,4000,5000,6000},
  ylabel={\textit{counts}\textsubscript{\textit{dust}}}]
\addplot[draw=none, fill=spanblue, forget plot] coordinates {(91.8,-500) (91.8,7000) (211,7000) (211,-500)} -- cycle;
\addplot[draw=none, fill=spanblue, forget plot] coordinates {(541.6,-500) (541.6,7000) (660.5,7000) (660.5,-500)} -- cycle;
\addplot[ybar, bar width=28.0, fill=bargray, draw=white, line width=0.35pt,
  error bars/.cd, y dir=both, y explicit,
  error bar style={line width=1.1pt, black},
  error mark options={rotate=90, line width=1.1pt, black, mark size=11.2pt}]
  table[row sep=\\, x=x, y=y, y error=e] {
x y e\\
14.4 1205 48\\ 44.84 2103 79\\ 75.28 2315 89\\ 105.72 4445 116\\ 136.16 5000 123\\
166.6 5781 134\\ 197.04 3288 96\\ 227.48 4082 116\\ 257.92 2233 82\\ 288.36 3233 92\\
318.8 3603 99\\ 349.24 1705 68\\ 379.68 1932 79\\ 410.12 829 51\\ 440.56 2233 82\\
471.0 1589 75\\ 501.44 2233 89\\ 531.88 2630 82\\ 562.32 2918 99\\ 592.76 2370 82\\
623.2 2336 82\\ 653.64 1925 72\\ 684.08 2178 86\\ 714.52 1904 75\\ 744.96 1377 62\\
775.4 1637 72\\
};
\end{axis}
% ---------------- (g) cumulative, left axis
\begin{axis}[panel, name=gaxis, at={(0pt,-1110.24pt)}, anchor=north west,
  title={(g)}, ymin=-3360, ymax=70560,
  xticklabels={2014-08-01,2014-10-01,2014-12-01,2015-02-01,2015-04-01,2015-06-01,2015-08-01,2015-10-01,2015-12-01,2016-02-01,2016-04-01,2016-06-01,2016-08-01,2016-10-01},
  xticklabel style={rotate=90, anchor=east, font=\fontsize{14}{16}\selectfont},
  ytick={0,20000,40000,60000}, yticklabels={0,2,4,6},
  ylabel={Cum. \# events},
  legend style={at={(0.5,1)}, anchor=north, yshift=-5.76pt, draw=black!20, rounded corners=2.5pt,
    fill=white, fill opacity=0.8, text opacity=1, font=\fontsize{11}{13}\selectfont,
    inner xsep=4.4pt, inner ysep=4.4pt, row sep=3pt, nodes={inner sep=1pt}},
  legend cell align=left]
\addplot[black, line width=1.5pt,
  legend image code/.code={\draw[black, line width=1.5pt] (0pt,0pt) -- (24.8pt,0pt); \path (33pt,0pt);}]
  coordinates {
(0,0) (39.7,1700) (58.6,3300) (88.6,5200) (101,7400) (115,8600) (131,12300) (143.7,13500) (159.5,16400) (172,19600)
(181.6,20400) (189.5,22100) (213,24500) (229,26900) (238,28200) (251,28200) (270,29800) (276,31000) (292,32200) (305,33900)
(320,36700) (336,37800) (355,38600) (377,39600) (396,41200) (425.5,41800) (428.5,42400) (441,43100) (466,44900) (498,46200)
(507,47100) (526,48500) (535.5,49900) (548,50600) (567,52000) (576.5,53400) (592,54900) (602,55600) (620.5,56300) (636,58000)
(661.5,59700) (683.5,60500) (690,62000) (709,62900) (718,63600) (740,65000) (766,65900) (791,67200)
};
\addlegendentry{Cum. \# events}
\addlegendimage{legend image code/.code={\fill[bargray] (0pt,-4.4pt) rectangle (24.8pt,4.4pt); \path (33pt,0pt);}}
\addlegendentry{\textit{counts}\textsubscript{\textit{dust}}}
\end{axis}
\node[anchor=south west, inner sep=0pt, font=\fontsize{10}{12}\selectfont] at ([yshift=2.5pt]gaxis.north west) {1e4};
\pgfresetboundingbox
\useasboundingbox (-52.2pt,21.96pt) rectangle (791.99pt,-1360.44pt);
\end{tikzpicture}
\end{document}
